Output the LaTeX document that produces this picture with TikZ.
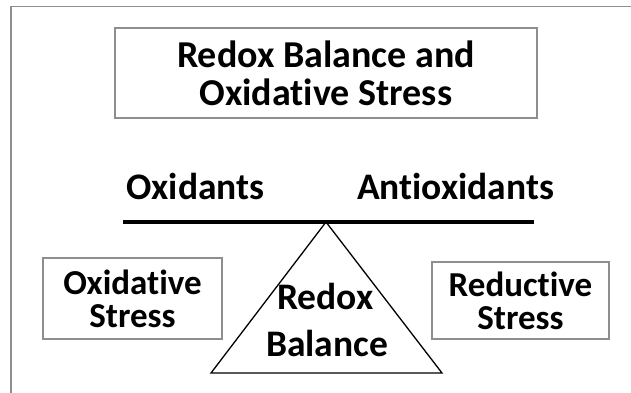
\documentclass[tikz,border=0pt]{standalone}
\usepackage{fontspec}
\setmainfont[Ligatures=NoCommon]{Carlito}
\usepackage{xcolor}
\usetikzlibrary{positioning, calc}
\definecolor{ink}{HTML}{000000}
\definecolor{edge}{HTML}{8E8E8E}
\tikzset{
  font=\bfseries,
  %
  frame/.style={draw=edge, line width=1.4pt},
  box/.style={
    draw=edge, line width=1.8pt, fill=white, inner sep=0pt,
    align=center, text=ink,
  },
  %
  head/.style={font=\bfseries\fontsize{38}{38}\selectfont, text=ink},
  side/.style={font=\bfseries\fontsize{35}{33}\selectfont},
  pan/.style={font=\bfseries\fontsize{37.5}{37}\selectfont, text=ink,
              anchor=base, inner sep=0pt},
  %
  beam/.style={draw=ink, line width=3.6pt},
  wedge/.style={draw=ink, line width=1.3pt, line join=miter},
}

\begin{document}
\begin{tikzpicture}[x=1pt, y=1pt]
  \useasboundingbox (0,0) rectangle (631,392);
  \clip (0,0) rectangle (631,392);

  % --- outer frame ------------------------------------------------------
  \draw[frame] (11,-20) rectangle (660,385.5);

  % --- title ------------------------------------------------------------
  \node[box, head, minimum width=422, minimum height=90] (title) at (326,319)
    {Redox Balance and\\Oxidative Stress};

  % --- the scale --------------------------------------------------------
  \coordinate (beamL) at (123,170);
  \coordinate (beamR) at (534,170);
  \coordinate (apex)  at (326,170);
  \coordinate (baseL) at (211,19);
  \coordinate (baseR) at (442,19);

  \draw[wedge] (baseL) -- (apex) -- (baseR) -- cycle;
  \draw[beam] (beamL) -- (beamR);

  \node[pan] (oxid)   at (195.5,193) {Oxidants};
  \node[pan] (antiox) at (455.5,193) {Antioxidants};

  \node[pan] (redox)   at (325.5,83) {Redox};
  \node[pan] (balance) at (327,36)   {Balance};

  % --- the two sides ----------------------------------------------------
  \node[box, side, minimum width=179, minimum height=81] (oxstress)
    at (132.5,93.5) {Oxidative\\Stress};
  \node[box, side, minimum width=177, minimum height=77] (redstress)
    at (520.5,91.5) {Reductive\\Stress};

\end{tikzpicture}
\end{document}
